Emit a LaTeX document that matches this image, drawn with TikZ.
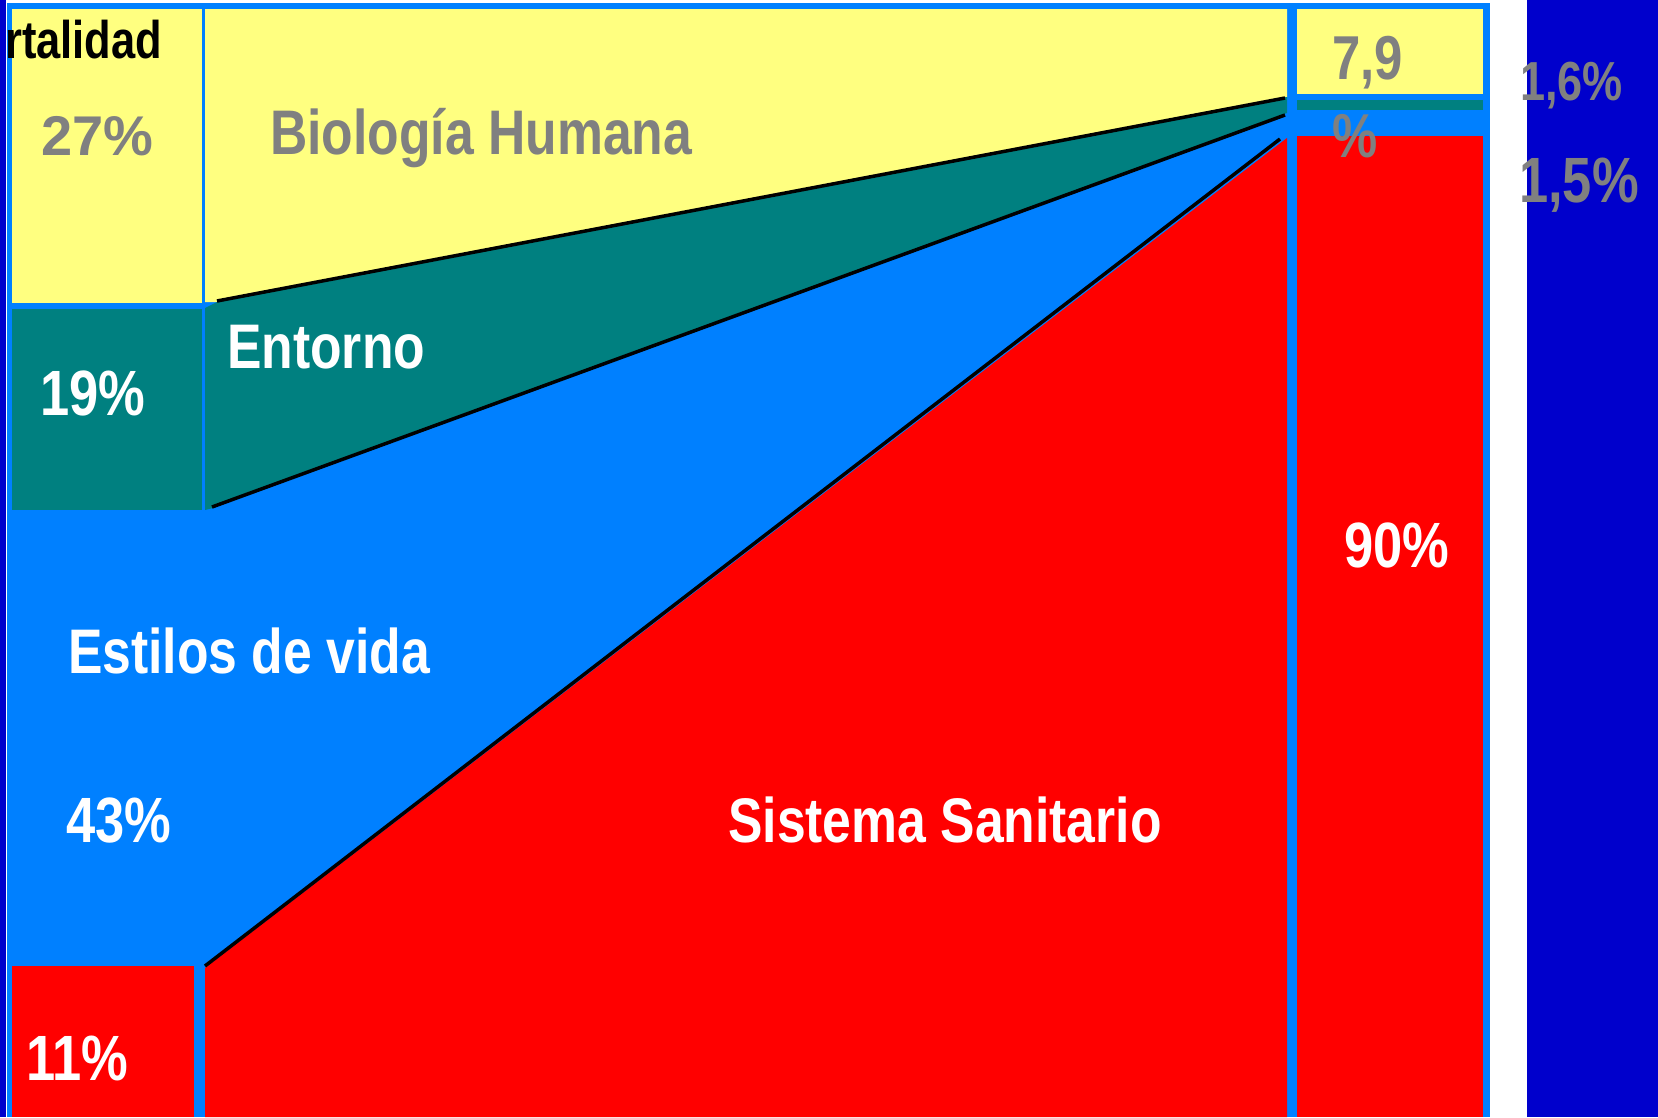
\documentclass[tikz,border=0pt]{standalone}
\usepackage{fontspec}
\setmainfont{Liberation Sans}
\newfontfamily\narfont[FakeStretch=0.82]{Liberation Sans}
\definecolor{yel}{HTML}{FFFF80}
\definecolor{tea}{HTML}{008080}
\definecolor{lblue}{HTML}{0080FF}
\definecolor{dblue}{HTML}{0000CC}
\definecolor{rd}{HTML}{FF0000}
\definecolor{gry}{HTML}{808080}
\begin{document}
\begin{tikzpicture}[x=1pt,y=-1pt,
  lbl/.style={inner sep=0pt,anchor=base west},
  nar/.style={font=\narfont\bfseries\fontsize{#1}{78}\selectfont},
  wid/.style={font=\bfseries\fontsize{#1}{78}\selectfont},
  stair/.style={draw=black,line width=3.5pt}]
\useasboundingbox (0,0) rectangle (1658,1117);
\fill[white] (0,0) rectangle (1658,1117);
% dark blue strips
\fill[dblue] (0,0) rectangle (6,1117);
\fill[dblue] (1527,0) rectangle (1658,1117);
% light blue frame / background
\fill[lblue] (7,3) rectangle (1490,1117);
% left column cells
\fill[yel] (12,9) rectangle (202,303);
\fill[tea] (12,309) rectangle (202,510);
\fill[rd] (12,966) rectangle (194,1117);
% main area regions
\fill[yel] (205,9) -- (1287,9) -- (1287,97) -- (217,302) -- (205,302) -- cycle;
\fill[tea] (205,308) -- (217,302) -- (1287,97) -- (1287,113) -- (213,508) -- (205,510) -- cycle;
\fill[rd] (205,968) -- (1287,138) -- (1287,1117) -- (205,1117) -- cycle;
% stair boundaries
\coordinate (yt1) at (217,301);
\coordinate (yt2) at (1285,98);
\coordinate (tb1) at (212,507);
\coordinate (tb2) at (1285,115);
\coordinate (br1) at (205,966);
\coordinate (br2) at (1280,139);
\draw[stair] (yt1) -- (yt2);
\draw[stair] (tb1) -- (tb2);
\draw[stair] (br1) -- (br2);
% right column
\fill[yel] (1297,9) rectangle (1483,94);
\fill[tea] (1297,100) rectangle (1483,110);
\fill[rd] (1297,136) rectangle (1483,1117);
% texts
\node[lbl,nar=53,text=black] (mort) at (5,58) {rtalidad};
\node[lbl,wid=56,text=gry] (p27) at (41,155) {27\%};
\node[lbl,nar=63,text=gry] (bio) at (270,154) {Biología Humana};
\node[lbl,nar=63,text=white] (ent) at (227,368) {Entorno};
\node[lbl,nar=64,text=white] (p19) at (40,415) {19\%};
\node[lbl,nar=63,text=white] (est) at (68,673) {Estilos de vida};
\node[lbl,nar=64,text=white] (p43) at (66,842) {43\%};
\node[lbl,nar=63,text=white] (sis) at (728,842) {Sistema Sanitario};
\node[lbl,nar=64,text=white] (p11) at (26,1080) {11\%};
\node[lbl,nar=64,text=white] (p90) at (1344,567) {90\%};
\node[lbl,nar=62,text=gry,align=left] (p79) at (1332,157) {7,9\\\%};
\node[lbl,nar=55,text=gry] (p16) at (1520,100) {1,6\%};
\node[lbl,nar=64,text=gry] (p15) at (1519,202) {1,5\%};
\end{tikzpicture}
\end{document}
